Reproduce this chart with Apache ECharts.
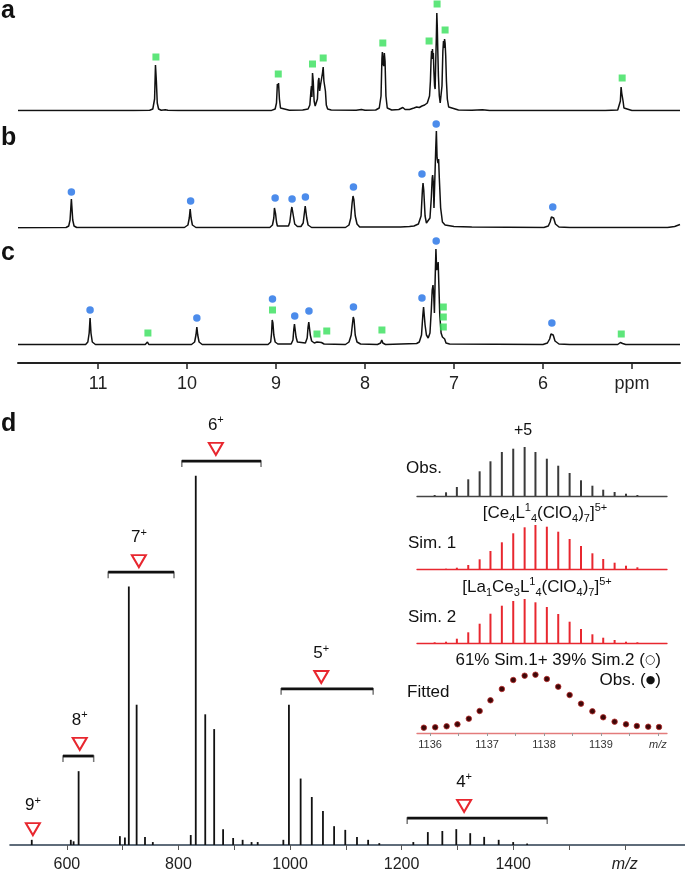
<!DOCTYPE html>
<html><head><meta charset="utf-8">
<script src="https://cdn.jsdelivr.net/npm/echarts@6/dist/echarts.min.js"></script>
<style>html,body{margin:0;padding:0;background:#fff}#c{width:685px;height:873px}</style>
</head><body><div id="c"></div>
<script>
const FONT = '"Liberation Sans", Arial, Helvetica, sans-serif';

// ---------- NMR spectra: [ppm, intensity] ----------
const spectrumA = [
[11.90,0.5],[10.60,0.5],[10.42,0.8],[10.385,2],[10.365,12],[10.355,46],[10.345,30],[10.335,8],[10.32,2],[10.29,0.8],[10.245,1.2],[10.23,2],[10.215,0.8],[10.10,0.5],
[9.05,0.6],[9.01,2],[8.995,8],[8.985,27],[8.978,24],[8.972,28],[8.962,12],[8.95,3],[8.93,1],[8.85,0.8],[8.70,1],
[8.64,2],[8.62,6],[8.608,20],[8.602,25],[8.597,14],[8.59,38],[8.582,30],[8.572,10],[8.56,5],[8.55,4],[8.535,12],[8.525,30],[8.518,33],[8.51,20],[8.50,26],[8.49,25],[8.478,38],[8.47,44],[8.462,30],[8.455,28],[8.445,20],[8.435,6],[8.42,2],[8.38,1],
[8.10,0.8],[8.04,1.5],[8.00,0.8],[7.88,1],[7.84,3],[7.82,15],[7.81,52],[7.805,59],[7.797,48],[7.79,45],[7.783,58],[7.775,50],[7.765,15],[7.75,3],[7.70,1],
[7.62,1.5],[7.575,3.5],[7.55,1.5],[7.50,1.5],[7.45,3],[7.42,4],[7.39,3.5],[7.36,5],[7.33,6],[7.30,8],[7.275,15],
[7.265,30],[7.258,50],[7.252,60],[7.247,52],[7.242,62],[7.237,55],[7.232,58],[7.226,40],[7.218,25],[7.212,22],[7.205,50],[7.198,75],[7.193,98],[7.188,85],[7.182,60],[7.175,35],[7.165,15],[7.155,8],[7.145,9],[7.135,25],[7.125,60],[7.118,70],[7.112,63],[7.106,72],[7.10,68],[7.093,55],[7.085,30],[7.075,12],[7.06,4],[7.04,2],[6.95,1],[6.80,0.8],[6.68,1.2],[6.60,0.5],
[5.30,0.5],[5.16,1],[5.14,3],[5.13,10],[5.122,24],[5.115,18],[5.108,20],[5.10,10],[5.09,3],[5.07,1],[5.00,0.5],[4.46,0.5]
];
const spectrumB = [
[11.90,0.3],[11.36,0.5],[11.33,2],[11.315,8],[11.305,22],[11.30,29],[11.295,22],[11.285,8],[11.27,2],[11.24,0.5],
[10.03,0.5],[9.99,3],[9.975,10],[9.965,19],[9.955,10],[9.94,3],[9.90,0.5],
[9.07,0.5],[9.04,3],[9.025,10],[9.018,20],[9.012,22],[9.005,14],[8.995,6],[8.985,2],
[8.86,2],[8.845,6],[8.83,17],[8.822,21],[8.815,21],[8.805,12],[8.79,4],[8.76,1.5],
[8.72,1.5],[8.695,5],[8.68,16],[8.672,22],[8.665,20],[8.655,10],[8.64,3],[8.60,0.5],
[8.22,0.5],[8.18,3],[8.16,10],[8.145,25],[8.135,32],[8.125,28],[8.11,12],[8.09,4],[8.06,1],
[7.60,1],[7.50,1.5],[7.45,2],[7.40,4],[7.37,12],[7.355,38],[7.348,45],[7.34,38],[7.325,12],[7.31,5],
[7.29,6],[7.27,10],[7.255,30],[7.245,50],[7.24,53],[7.232,45],[7.225,20],[7.215,50],[7.205,80],[7.198,97],[7.19,70],[7.18,65],[7.173,69],[7.165,50],[7.15,20],[7.13,6],[7.10,3],[7.00,1.5],[6.80,1],
[5.99,0.5],[5.94,2],[5.92,6],[5.905,11],[5.895,13],[5.88,10],[5.86,4],[5.82,1],[5.70,0.5],
[4.60,0.5],[4.52,1.5],[4.46,3.5]
];
const spectrumC = [
[11.90,0.5],[11.14,0.5],[11.115,3],[11.10,12],[11.09,27],[11.08,12],[11.065,3],[11.03,0.5],
[10.47,0.5],[10.445,3],[10.43,0.5],
[9.95,0.5],[9.915,3],[9.90,10],[9.89,18],[9.88,10],[9.865,3],[9.83,0.5],
[9.09,0.5],[9.06,3],[9.05,12],[9.043,25],[9.035,22],[9.025,10],[9.01,3],[8.98,1],
[8.83,1],[8.81,5],[8.80,16],[8.793,21],[8.785,20],[8.775,8],[8.76,3],[8.74,2],
[8.67,2],[8.65,7],[8.64,18],[8.632,23],[8.625,21],[8.615,10],[8.60,4],[8.57,2],[8.54,3],[8.52,2],[8.49,2.5],[8.46,1],
[8.22,0.5],[8.18,3],[8.155,10],[8.14,22],[8.132,28],[8.123,25],[8.11,10],[8.09,3],[8.05,1],
[7.86,0.5],[7.825,2],[7.812,5],[7.80,2],[7.77,0.5],
[7.42,1.5],[7.39,3],[7.365,10],[7.35,30],[7.342,38],[7.335,36],[7.325,20],[7.31,10],[7.29,7],[7.27,12],[7.255,35],[7.245,55],[7.236,60],[7.228,50],[7.22,32],[7.212,65],[7.203,96],[7.195,75],[7.185,78],[7.178,83],[7.17,60],[7.16,30],[7.145,12],[7.13,8],[7.12,6],[7.105,6],[7.09,2],[7.05,1],
[6.00,0.5],[5.95,2],[5.925,6],[5.91,11],[5.90,12],[5.885,10],[5.865,4],[5.82,1],[5.70,0.5],
[5.16,0.5],[5.13,2.5],[5.12,3],[5.105,1.5],[5.07,0.5],[4.95,0.5],[4.78,0.5],[4.765,1.5],[4.75,0.5],[4.46,0.5]
];
const markersAGreen = [[10.35,54],[8.975,37],[8.59,47],[8.47,53],[7.80,68],[7.28,70],[7.19,107],[7.10,81],[5.11,33]];
const markersBBlue  = [[11.30,36],[9.96,27],[9.01,30],[8.82,29],[8.67,31],[8.13,41],[7.36,54],[7.20,104],[5.89,21]];
const markersCBlue  = [[11.09,35],[9.89,27],[9.04,46],[8.79,29],[8.63,34],[8.13,38],[7.36,47],[7.20,104],[5.90,22]];
const markersCGreen = [[10.44,12],[9.04,35],[8.54,11],[8.43,14],[7.81,15],[7.12,38],[7.12,28],[7.12,18],[5.12,11]];
const ppmTicks = [5,6,7,8,9,10,11];

// ---------- ESI-MS ----------
const msMz  = [537,607,612,621,695,704,711,725,740,754,822,831,848,864,880,898,915,931,942,988,998,1019,1039,1059,1079,1099,1120,1140,1160,1221,1247,1273,1298,1323,1348,1374,1400,1425];
const msInt = [1.4,1.4,1.0,20,2.4,2.0,70,38,2.2,0.8,2.7,100,35.4,31.4,4.3,1.9,1.4,0.8,0.8,1.4,38,18,13,9.2,5.1,4.1,2.2,1.4,0.5,0.8,3.5,3.8,4.3,3.2,2.2,1.4,0.8,0.4];
const msTicks = [600,800,1000,1200,1400,1600];
const msMinorTicks = [600,700,800,900,1000,1100,1200,1300,1400,1500,1600];
const chargeLabels = ['9','8','7','6','5','4'];
const chargeMz     = [539,623,729,867,1056,1312];
const chargeMarkY  = [4.3,27.4,76.9,107.3,45.5,10.6];
const bracketFrom  = [593,674,806,984,1210];
const bracketTo    = [648,792,948,1149,1461];
const bracketY     = [24.1,73.9,104,42.3,7.3];

// ---------- inset isotope patterns (+5) ----------
const isoMz   = [1136.08,1136.28,1136.47,1136.67,1136.87,1137.06,1137.26,1137.46,1137.66,1137.85,1138.05,1138.25,1138.45,1138.65,1138.85,1139.04,1139.24,1139.44,1139.64];
const obsInt  = [1,3.7,9,16.7,24.7,34.7,44,47.3,49,44,37.3,30.3,23,15.7,10.3,6.3,4,2.3,1];
const sim1Int = [0,0.3,1.3,4,9.7,18,26.7,35.7,41.7,44,42.3,37.3,30,23,15.7,10,6.3,3.3,1.7];
const sim2Int = [0.7,1.3,4.3,10.7,19.3,29.3,37.3,42,44,40.7,36,29,21.3,14,8.7,5.3,3,1.3,0.7];
const fitMz   = [1135.89,1136.09,1136.29,1136.48,1136.68,1136.87,1137.06,1137.26,1137.46,1137.66,1137.85,1138.05,1138.25,1138.45,1138.65,1138.85,1139.04,1139.24,1139.44,1139.63,1139.83,1140.02];
const fitInt  = [5.3,5.7,6.7,8.7,14.3,22,32.7,44,53,57.3,58.3,54,46.3,38,29.3,21.7,15.7,11.3,8.7,7,6.3,6];
const insetTicks = [1136,1137,1138,1139,1140];
const insetMinor = [1136,1136.5,1137,1137.5,1138,1138.5,1139,1139.5,1140];

const zip = (a, b) => a.map((v, i) => [v, b[i]]);
const GREEN = '#36e05a', BLUE = '#1f6fe6', RED = '#e8272f';

const chart = echarts.init(document.getElementById('c'), null, {renderer: 'canvas'});

const nmrX = (i, showAxis) => ({
  gridIndex: i, type: 'value', min: 4.46, max: 11.9, inverse: true, show: showAxis,
  axisLine: {onZero: false, lineStyle: {color: '#222', width: 2}},
  axisTick: {customValues: ppmTicks, length: 6, lineStyle: {color: '#222', width: 1.5}},
  axisLabel: {customValues: ppmTicks, formatter: v => v === 5 ? 'ppm' : String(v), fontSize: 18, color: '#222', fontFamily: FONT, margin: 12},
  splitLine: {show: false}
});
const insetX = (i, color, showTicks) => ({
  gridIndex: i, type: 'value', min: 1135.77, max: 1140.16,
  axisLine: {onZero: false, lineStyle: {color: color, width: 1.3}},
  axisTick: {show: showTicks, customValues: insetMinor, length: 3, lineStyle: {color: '#999'}},
  axisLabel: {show: showTicks, customValues: insetTicks, formatter: v => v === 1140 ? '{i|m/z}' : String(v), fontSize: 11, color: '#333', fontFamily: FONT, margin: 6,
    rich: {i: {fontStyle: 'italic', fontSize: 11, color: '#333', fontFamily: FONT}}},
  splitLine: {show: false}
});
const hiddenY = (i, min, max) => ({gridIndex: i, type: 'value', min: min, max: max, show: false, splitLine: {show: false}});

const g = (left, top, width, height) => ({left, top, width, height, outerBoundsMode: 'none', containLabel: false});

const txt = (text, x, y, align, size, extra) => Object.assign({
  type: 'text', x: x, y: y, silent: true,
  style: Object.assign({text: text, fill: '#111', font: size + 'px ' + FONT, align: align, verticalAlign: 'middle'}, extra || {})
});
const formulaRich = {
  n: {fontSize: 17, fontFamily: FONT, color: '#111', lineHeight: 22},
  sb: {fontSize: 11, fontFamily: FONT, color: '#111', verticalAlign: 'bottom', lineHeight: 11},
  sp: {fontSize: 11, fontFamily: FONT, color: '#111', verticalAlign: 'top', lineHeight: 11},
  oc: {fontSize: 12, fontFamily: 'DejaVu Sans', color: RED, lineHeight: 22},
  bc: {fontSize: 11, fontFamily: 'DejaVu Sans', color: '#000', lineHeight: 22}
};
const rtxt = (text, x, y, align) => ({
  type: 'text', x: x, y: y, silent: true,
  style: {text: text, rich: formulaRich, fill: '#111', font: '17px ' + FONT, align: align, verticalAlign: 'middle'}
});

const option = {
  animation: false,
  backgroundColor: '#fff',
  grid: [
    g(18, 0, 662, 111),
    g(18, 111, 662, 117),
    g(18, 228, 662, 135),
    g(10, 402, 675, 443),
    g(417, 436, 250, 60),
    g(417, 509, 250, 60),
    g(417, 583, 250, 60),
    g(417, 663, 250, 70)
  ],
  xAxis: [
    nmrX(0, false), nmrX(1, false), nmrX(2, true),
    {gridIndex: 3, type: 'value', min: 498, max: 1708,
     axisLine: {onZero: false, lineStyle: {color: '#2b3d4f', width: 1.6}},
     axisTick: {customValues: msMinorTicks, length: 5, lineStyle: {color: '#555'}},
     axisLabel: {customValues: msTicks, formatter: v => v === 1600 ? '{i|m/z}' : String(v), fontSize: 16, color: '#222', fontFamily: FONT, margin: 12,
       rich: {i: {fontStyle: 'italic', fontSize: 16, color: '#222', fontFamily: FONT}}},
     splitLine: {show: false}},
    insetX(4, '#444', false), insetX(5, RED, false), insetX(6, RED, false), insetX(7, '#e37b7b', true)
  ],
  yAxis: [
    hiddenY(0, 0, 111), hiddenY(1, 0, 117), hiddenY(2, -18, 117), hiddenY(3, 0, 120),
    hiddenY(4, 0, 60), hiddenY(5, 0, 60), hiddenY(6, 0, 60), hiddenY(7, 0, 70)
  ],
  series: [
    {type: 'line', xAxisIndex: 0, yAxisIndex: 0, data: spectrumA, showSymbol: false, lineStyle: {color: '#111', width: 1.5}, z: 2},
    {type: 'line', xAxisIndex: 1, yAxisIndex: 1, data: spectrumB, showSymbol: false, lineStyle: {color: '#111', width: 1.5}, z: 2},
    {type: 'line', xAxisIndex: 2, yAxisIndex: 2, data: spectrumC, showSymbol: false, lineStyle: {color: '#111', width: 1.5}, z: 2},
    {type: 'scatter', xAxisIndex: 0, yAxisIndex: 0, data: markersAGreen, symbol: 'rect', symbolSize: 7, itemStyle: {color: GREEN}, z: 3},
    {type: 'scatter', xAxisIndex: 1, yAxisIndex: 1, data: markersBBlue, symbol: 'circle', symbolSize: 7.5, itemStyle: {color: BLUE}, z: 3},
    {type: 'scatter', xAxisIndex: 2, yAxisIndex: 2, data: markersCBlue, symbol: 'circle', symbolSize: 7.5, itemStyle: {color: BLUE}, z: 3},
    {type: 'scatter', xAxisIndex: 2, yAxisIndex: 2, data: markersCGreen, symbol: 'rect', symbolSize: 7, itemStyle: {color: GREEN}, z: 3},
    // MS spectrum
    {type: 'bar', xAxisIndex: 3, yAxisIndex: 3, data: zip(msMz, msInt), barWidth: 1.8, itemStyle: {color: '#111'}, z: 2},
    {type: 'custom', xAxisIndex: 3, yAxisIndex: 3, data: bracketFrom.map((v, i) => [v, bracketTo[i], bracketY[i]]), z: 3,
     renderItem: (params, api) => {
       const a = api.coord([api.value(0), api.value(2)]);
       const b = api.coord([api.value(1), api.value(2)]);
       return {type: 'group', children: [
         {type: 'polyline', shape: {points: [[a[0], a[1] + 6], [a[0], a[1]], [b[0], b[1]], [b[0], b[1] + 6]]}, style: {stroke: '#777', lineWidth: 1.5, fill: null}},
         {type: 'line', shape: {x1: a[0], y1: a[1], x2: b[0], y2: b[1]}, style: {stroke: '#111', lineWidth: 2.8}}
       ]};
     }},
    {type: 'scatter', xAxisIndex: 3, yAxisIndex: 3, data: zip(chargeMz, chargeMarkY), symbol: 'triangle', symbolRotate: 180, symbolSize: [14, 12],
     itemStyle: {color: '#fff', borderColor: RED, borderWidth: 2, opacity: 1}, z: 4,
     label: {show: true, position: 'top', distance: 7, color: '#111', textBorderWidth: 0, opacity: 1,
       formatter: p => '{n|' + chargeLabels[p.dataIndex] + '}{s|+}',
       rich: {n: {fontSize: 17, color: '#111', fontFamily: FONT, lineHeight: 20}, s: {fontSize: 11, color: '#111', fontFamily: FONT, verticalAlign: 'top', lineHeight: 11}}},
     emphasis: {disabled: true}},
    // inset
    {type: 'bar', xAxisIndex: 4, yAxisIndex: 4, data: zip(isoMz, obsInt), barWidth: 2, itemStyle: {color: '#3a3a3a'}},
    {type: 'bar', xAxisIndex: 5, yAxisIndex: 5, data: zip(isoMz, sim1Int), barWidth: 2, itemStyle: {color: RED}},
    {type: 'bar', xAxisIndex: 6, yAxisIndex: 6, data: zip(isoMz, sim2Int), barWidth: 2, itemStyle: {color: RED}},
    {type: 'scatter', xAxisIndex: 7, yAxisIndex: 7, data: zip(fitMz, fitInt), symbol: 'circle', symbolSize: 5.5,
     itemStyle: {color: '#3d0808', borderColor: '#b82a2a', borderWidth: 0.8, opacity: 1}}
  ],
  graphic: [
    txt('a', 1, 11, 'left', 25, {font: 'bold 25px ' + FONT}),
    txt('b', 1, 138, 'left', 25, {font: 'bold 25px ' + FONT}),
    txt('c', 1, 253, 'left', 25, {font: 'bold 25px ' + FONT}),
    txt('d', 1, 424, 'left', 25, {font: 'bold 25px ' + FONT}),
    txt('+5', 523, 431, 'center', 16),
    txt('Obs.', 406, 468, 'left', 17),
    rtxt('{n|[Ce}{sb|4}{n|L}{sp|1}{sb|4}{n|(ClO}{sb|4}{n|)}{sb|7}{n|]}{sp|5+}', 545, 513, 'center'),
    txt('Sim. 1', 408, 543, 'left', 17),
    rtxt('{n|[La}{sb|1}{n|Ce}{sb|3}{n|L}{sp|1}{sb|4}{n|(ClO}{sb|4}{n|)}{sb|7}{n|]}{sp|5+}', 537, 587, 'center'),
    txt('Sim. 2', 408, 617, 'left', 17),
    rtxt('{n|61% Sim.1+ 39% Sim.2 (}{oc|○}{n|)}', 661, 660, 'right'),
    rtxt('{n|Obs. (}{bc|●}{n|)}', 661, 680, 'right'),
    txt('Fitted', 407, 692, 'left', 17)
  ]
};
chart.setOption(option);
</script></body></html>
